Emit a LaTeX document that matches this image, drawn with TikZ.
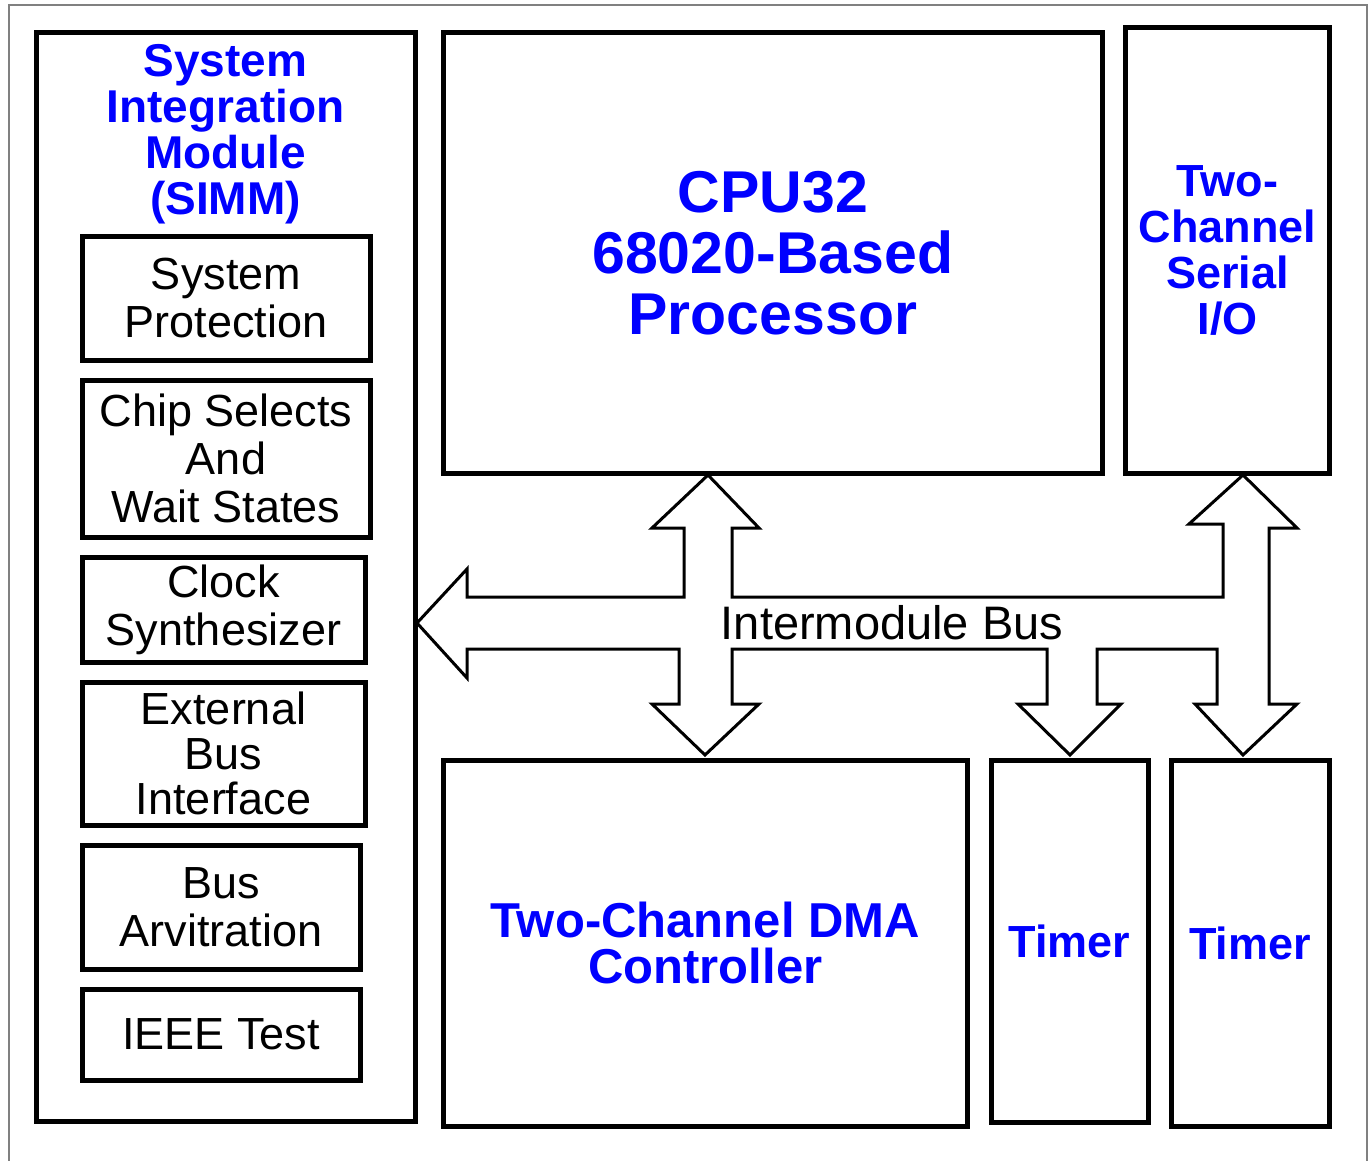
\documentclass[tikz,border=0pt]{standalone}
\usepackage{fontspec}
\setmainfont{Liberation Sans}
\begin{document}
\begin{tikzpicture}[
            x=1pt, y=-1pt,
            block/.style={rectangle, draw, line width=5pt, inner sep=0pt, align=center},
            unit/.style={block, text=blue, font=\bfseries\fontsize{45}{46}\selectfont},
            part/.style={block, font=\fontsize{45}{48}\selectfont},
            bus/.style={draw, line width=3pt, line join=miter}
            ]
            \useasboundingbox (0,0) rectangle (1370,1161);
            % Outer frame
            \draw[gray, line width=2pt] (9,1161) -- (9,5) -- (1367,5) -- (1367,1161);

            % System integration module
            \node[block, minimum width=379.5pt, minimum height=1089pt] (sim) at (225.75,577) {};
            \node[text=blue, font=\bfseries\fontsize{46}{46}\selectfont, align=center] (simtitle) at (225.5,134) {System\\Integration\\Module\\(SIMM)};

            % Parts of the module
            \node[part, minimum width=288pt, minimum height=124pt] (protect) at (226,298) {System\\Protection};
            \node[part, minimum width=288pt, minimum height=157pt] (chipsel) at (226,458.5) {Chip Selects\\And\\Wait States};
            \node[part, minimum width=283pt, minimum height=105pt] (clock) at (223.5,609.5) {Clock\\Synthesizer};
            \node[part, minimum width=283pt, minimum height=143pt, font=\fontsize{45}{45}\selectfont] (extbus) at (223.5,753.5) {External\\Bus\\Interface};
            \node[part, minimum width=278pt, minimum height=124pt] (arbit) at (221,907) {Bus\\Arvitration};
            \node[part, minimum width=278pt, minimum height=91pt] (ieee) at (221,1034.5) {IEEE Test};

            % Other modules
            \node[unit, minimum width=658.5pt, minimum height=440.5pt, font=\bfseries\fontsize{59}{61}\selectfont] (cpu) at (772.75,252.75) {CPU32\\68020-Based\\Processor};
            \node[unit, minimum width=204pt, minimum height=445.5pt] (serial) at (1227.5,250.25) {Two-\\Channel\\Serial\\I/O};
            \node[unit, minimum width=523.5pt, minimum height=365.5pt, font=\bfseries\fontsize{49}{46}\selectfont] (dma) at (705.25,943.25) {Two-Channel DMA\\Controller};
            \node[unit, minimum width=157pt, minimum height=361.5pt] (timera) at (1069.5,941.25) {Timer};
            \node[unit, minimum width=158pt, minimum height=365.5pt] (timerb) at (1250,943.25) {Timer};

            % Intermodule bus
            \draw[bus] (417,623) -- (467,569) -- (467,597) -- (684,597) -- (684,528) -- (652,528)
                -- (708,475) -- (759,528) -- (732,528) -- (732,597) -- (1223,597) -- (1223,524)
                -- (1189,524) -- (1243,475) -- (1297,528) -- (1269,528) -- (1269,704) -- (1297,704)
                -- (1243,755) -- (1195,704) -- (1217,704) -- (1217,649) -- (1097,649) -- (1097,704)
                -- (1121,704) -- (1070,755) -- (1018,704) -- (1047,704) -- (1047,649) -- (732,649)
                -- (732,704) -- (759,704) -- (705,755) -- (652,704) -- (679,704) -- (679,649)
                -- (467,649) -- (467,678) -- cycle;
            \node[font=\fontsize{47}{48}\selectfont] (buslabel) at (892,623) {Intermodule Bus};

        \end{tikzpicture}
\end{document}
